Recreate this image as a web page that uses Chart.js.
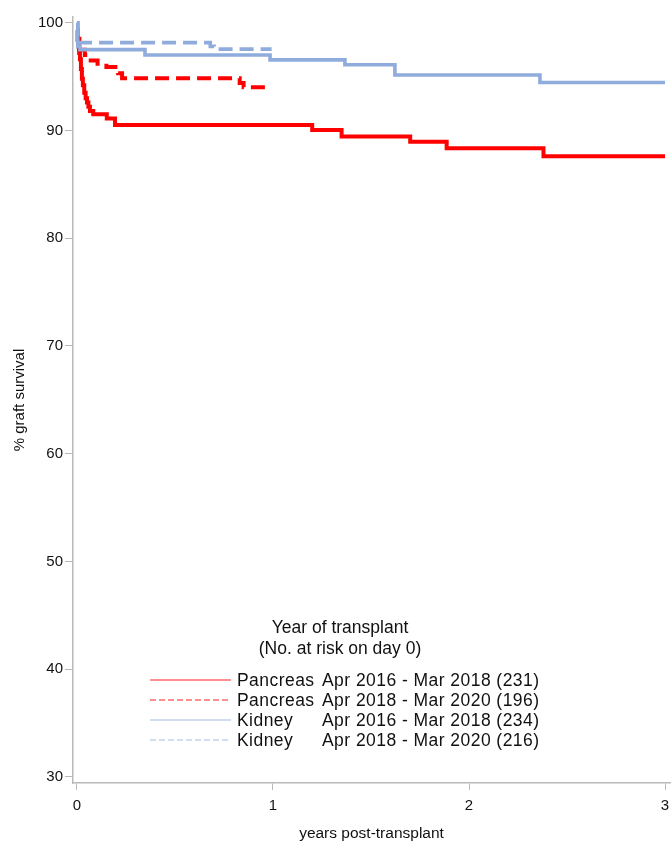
<!DOCTYPE html>
<html>
<head>
<meta charset="utf-8">
<script src="https://cdn.jsdelivr.net/npm/chart.js@4.4.1/dist/chart.umd.min.js"></script>
<style>
html,body{margin:0;padding:0;background:#fff;}
#wrap{position:relative;width:672px;height:843px;}
#c{position:absolute;left:0;top:0;}
#legend{position:absolute;left:0;top:0;width:672px;height:843px;pointer-events:none;font-family:'Liberation Sans',Arial,sans-serif;color:#111;}
.lt{position:absolute;left:190px;width:300px;text-align:center;font-size:17.5px;line-height:20px;white-space:nowrap;}
.row{position:absolute;left:150px;height:20px;line-height:20px;font-size:17.5px;white-space:nowrap;letter-spacing:0.45px;}
.row svg{position:absolute;left:0;top:0;}
.row .org{position:absolute;left:87px;top:0;}
.row .per{position:absolute;left:172px;top:0;}
</style>
</head>
<body>
<div id="wrap">
<canvas id="c" width="672" height="843"></canvas>
<div id="legend"></div>
</div>
<script>
// ---- Data ----
const xTickValues = [0, 1, 2, 3];
const yTickValues = [30, 40, 50, 60, 70, 80, 90, 100];

const organs  = ['Pancreas', 'Pancreas', 'Kidney', 'Kidney'];
const periods = ['Apr 2016 - Mar 2018', 'Apr 2018 - Mar 2020', 'Apr 2016 - Mar 2018', 'Apr 2018 - Mar 2020'];
const atRisk  = [231, 196, 234, 216];

// Pancreas Apr 2016 - Mar 2018
const pancA_years    = [0, 0.003, 0.007, 0.011, 0.015, 0.02, 0.025, 0.03, 0.037, 0.044, 0.051, 0.058, 0.066, 0.083, 0.152, 0.194, 1.2, 1.35, 1.70, 1.886, 2.38, 3.0];
const pancA_survival = [99.3, 98.4, 97.8, 97.2, 96.6, 95.7, 94.8, 94.2, 93.5, 93.0, 92.6, 92.2, 91.8, 91.5, 91.1, 90.5, 90.05, 89.45, 88.95, 88.35, 87.6, 87.6];

// Pancreas Apr 2018 - Mar 2020
const pancB_years    = [0, 0.005, 0.012, 0.04, 0.07, 0.105, 0.15, 0.21, 0.23, 0.83, 0.85, 0.976];
const pancB_survival = [99.3, 98.5, 97.5, 97.0, 96.5, 96.2, 95.9, 95.3, 94.85, 94.4, 94.0, 94.0];

// Kidney Apr 2016 - Mar 2018
const kidA_years    = [0, 0.004, 0.015, 0.347, 0.985, 1.367, 1.622, 2.362, 3.0];
const kidA_survival = [100, 97.8, 97.5, 97.0, 96.55, 96.1, 95.15, 94.45, 94.45];

// Kidney Apr 2018 - Mar 2020
const kidB_years    = [0, 0.005, 0.68, 0.70, 0.993];
const kidB_survival = [100, 98.15, 97.8, 97.55, 97.55];

// ---- Styling ----
const RED = '#ff0000';
const BLUE = 'rgb(143,172,220)';
const toPts = (xs, ys) => xs.map((x, i) => ({x: x, y: ys[i]}));

const datasets = [
  {label: organs[2] + ' ' + periods[2], data: toPts(kidA_years, kidA_survival), borderColor: BLUE, borderWidth: 3.6},
  {label: organs[3] + ' ' + periods[3], data: toPts(kidB_years, kidB_survival), borderColor: BLUE, borderWidth: 3.6, borderDash: [14, 7]},
  {label: organs[0] + ' ' + periods[0], data: toPts(pancA_years, pancA_survival), borderColor: RED, borderWidth: 4},
  {label: organs[1] + ' ' + periods[1], data: toPts(pancB_years, pancB_survival), borderColor: RED, borderWidth: 4, borderDash: [14, 7]}
].map(d => Object.assign({stepped: 'before', pointRadius: 0, fill: false, tension: 0, borderCapStyle: 'butt', borderJoinStyle: 'miter'}, d));

const FONT = "'Liberation Sans', Arial, sans-serif";
const TXT = '#111';
const AXIS = '#b9b9b9';

new Chart(document.getElementById('c'), {
  type: 'line',
  data: {datasets: datasets},
  options: {
    responsive: false,
    animation: false,
    events: [],
    layout: {padding: {top: 17, right: 2, left: 0, bottom: 0}},
    plugins: {legend: {display: false}, tooltip: {enabled: false}, title: {display: false}},
    scales: {
      x: {
        type: 'linear',
        min: -0.0204, max: 3.0255,
        afterBuildTicks: s => { s.ticks = xTickValues.map(v => ({value: v})); },
        afterFit: s => { s.height = 60; s.paddingLeft = 0; s.paddingRight = 0; },
        grid: {drawOnChartArea: false, drawTicks: true, tickLength: 7, color: AXIS, lineWidth: 1},
        border: {display: true, color: AXIS, width: 1.5},
        ticks: {padding: 7, color: TXT, font: {family: FONT, size: 15}, maxRotation: 0, autoSkip: false},
        title: {display: true, text: 'years post-transplant', color: TXT, font: {family: FONT, size: 15.5}, padding: {top: 0, bottom: 0}}
      },
      y: {
        type: 'linear',
        min: 29.44, max: 100.53,
        afterBuildTicks: s => { s.ticks = yTickValues.map(v => ({value: v})); },
        afterFit: s => { s.width = 73; s.paddingTop = 0; s.paddingBottom = 0; },
        grid: {drawOnChartArea: false, drawTicks: true, tickLength: 8, color: AXIS, lineWidth: 1},
        border: {display: true, color: AXIS, width: 1.5},
        ticks: {padding: 2, color: TXT, font: {family: FONT, size: 15}, autoSkip: false},
        title: {display: true, text: '% graft survival', color: TXT, font: {family: FONT, size: 15}, padding: {top: 11, bottom: 0}}
      }
    }
  }
});

// ---- Legend (HTML text) ----
const lg = document.getElementById('legend');
const titleLines = ['Year of transplant', '(No. at risk on day 0)'];
const titleCenters = [627, 648];
titleLines.forEach((t, i) => {
  const d = document.createElement('div');
  d.className = 'lt';
  d.style.top = (titleCenters[i] - 10) + 'px';
  d.textContent = t;
  lg.appendChild(d);
});
const sampleColors = ['#ff6b6b', '#ff6b6b', '#c2d3ee', '#c2d3ee'];
const sampleDash = ['', '6,3', '', '6,3'];
const rowCenters = [680, 700, 720, 740];
organs.forEach((o, i) => {
  const r = document.createElement('div');
  r.className = 'row';
  r.style.top = (rowCenters[i] - 10) + 'px';
  const dash = sampleDash[i] ? ' stroke-dasharray="' + sampleDash[i] + '"' : '';
  r.innerHTML = '<svg width="82" height="20"><line x1="0" y1="10" x2="81" y2="10" stroke="' + sampleColors[i] + '" stroke-width="1.6"' + dash + '/></svg>' +
    '<span class="org"></span><span class="per"></span>';
  r.querySelector('.org').textContent = o;
  r.querySelector('.per').textContent = periods[i] + ' (' + atRisk[i] + ')';
  lg.appendChild(r);
});
</script>
</body>
</html>
